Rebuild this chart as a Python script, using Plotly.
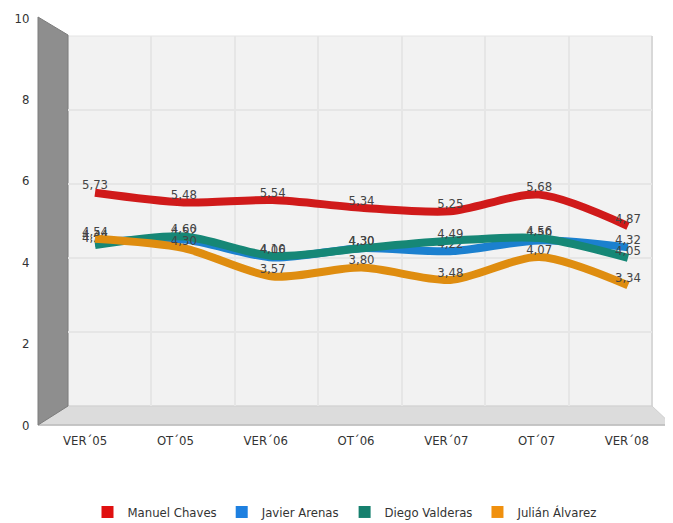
#!/usr/bin/env python3
"""Valoración de líderes andaluces (VER'05 - VER'08), pseudo-3D line chart."""

import plotly.graph_objects as go

# the page puts the plot 8 px in from the top-left corner of the window
OFFSET = 8
W, H = 673 - OFFSET, 523 - OFFSET

PERIODS = ["VER´05", "OT´05", "VER´06", "OT´06", "VER´07", "OT´07", "VER´08"]

CHAVES = [5.73, 5.48, 5.54, 5.34, 5.25, 5.68, 4.87]
ARENAS = [4.44, 4.52, 4.06, 4.30, 4.22, 4.50, 4.32]
VALDERAS = [4.38, 4.60, 4.10, 4.30, 4.49, 4.56, 4.05]
ALVAREZ = [4.54, 4.30, 3.57, 3.80, 3.48, 4.07, 3.34]

SERIES = [
    ("Manuel Chaves", CHAVES, "#d01a1a", "#e01010"),
    ("Javier Arenas", ARENAS, "#1b80cf", "#1e80e0"),
    ("Diego Valderas", VALDERAS, "#168776", "#16806e"),
    ("Julián Álvarez", ALVAREZ, "#df8d10", "#f0900e"),
]

Y_TICKS = [0, 2, 4, 6, 8, 10]

FONT = "Liberation Sans Narrow, DejaVu Sans Condensed, Arial Narrow, sans-serif"


def px(x):
    """Screen x pixel -> paper fraction."""
    return (x - OFFSET) / W


def py(y):
    """Screen y pixel -> paper fraction."""
    return 1 - (y - OFFSET) / H


def fmt(v):
    return f"{v:.2f}".replace(".", ",")


fig = go.Figure()

xs = list(range(len(PERIODS)))

# subplot 1 (x/y): back wall grid, only a dummy trace
fig.add_trace(go.Scatter(x=[None], y=[None], xaxis="x", yaxis="y", showlegend=False, hoverinfo="skip"))
# subplot 2 (x2/y2): front axis labels
fig.add_trace(go.Scatter(x=[None], y=[None], xaxis="x2", yaxis="y2", showlegend=False, hoverinfo="skip"))

# subplot 3 (x3/y3): the data lines
for name, values, color, _ in SERIES:
    fig.add_trace(
        go.Scatter(
            x=xs,
            y=values,
            xaxis="x3",
            yaxis="y3",
            mode="lines+text",
            line={"color": color, "width": 8, "shape": "spline", "smoothing": 0.8},
            text=[fmt(v) for v in values],
            textposition="top center",
            textfont={"family": FONT, "size": 13, "color": "#444"},
            cliponaxis=False,
            name=name,
            showlegend=False,
        )
    )

# legend swatches
for name, _, _, swatch in SERIES:
    fig.add_trace(
        go.Scatter(
            x=[None],
            y=[None],
            xaxis="x3",
            yaxis="y3",
            mode="markers",
            marker={"symbol": "square", "size": 16, "color": swatch, "line": {"width": 0}},
            name=name,
            showlegend=True,
        )
    )

hidden = {"showgrid": False, "zeroline": False, "showticklabels": False, "ticks": ""}

# pseudo-3D frame
shapes = [
    # back wall
    {"type": "rect", "xref": "paper", "yref": "paper",
     "x0": px(68), "x1": px(652), "y0": py(406), "y1": py(36),
     "fillcolor": "#f2f2f2", "line": {"color": "#e4e4e4", "width": 1}, "layer": "below"},
    # right edge of back wall
    {"type": "line", "xref": "paper", "yref": "paper",
     "x0": px(652), "x1": px(652), "y0": py(406), "y1": py(36),
     "line": {"color": "#d8d8d8", "width": 2}, "layer": "below"},
    # floor
    {"type": "path", "xref": "paper", "yref": "paper",
     "path": f"M {px(38)} {py(425)} L {px(68)} {py(406)} L {px(652)} {py(406)} L {px(672)} {py(425)} Z",
     "fillcolor": "#dcdcdc", "line": {"color": "#cfcfcf", "width": 1}, "layer": "below"},
    {"type": "line", "xref": "paper", "yref": "paper",
     "x0": px(38), "x1": px(672), "y0": py(425), "y1": py(425),
     "line": {"color": "#bdbdbd", "width": 1.5}, "layer": "below"},
    # left wall
    {"type": "path", "xref": "paper", "yref": "paper",
     "path": f"M {px(38)} {py(17)} L {px(68)} {py(35)} L {px(68)} {py(406)} L {px(38)} {py(425)} Z",
     "fillcolor": "#8e8e8e", "line": {"color": "#7c7c7c", "width": 1}, "layer": "below"},
]

fig.update_layout(
    width=W,
    height=H,
    margin={"l": 0, "r": 0, "t": 0, "b": 0, "autoexpand": False},
    paper_bgcolor="white",
    plot_bgcolor="rgba(0,0,0,0)",
    font={"family": FONT, "size": 12, "color": "#333"},
    shapes=shapes,
    # back wall grid
    xaxis={
        "domain": [px(68), px(652)], "range": [-0.5, 6.5], "anchor": "y",
        "tickvals": [0.5, 1.5, 2.5, 3.5, 4.5, 5.5], "showgrid": True,
        "gridcolor": "#e6e6e6", "gridwidth": 2, "zeroline": False,
        "showticklabels": False, "ticks": "",
    },
    yaxis={
        "domain": [py(406), py(36)], "range": [0, 10], "anchor": "x",
        "tickvals": Y_TICKS, "showgrid": True, "gridcolor": "#e6e6e6", "gridwidth": 2,
        "zeroline": False, "showticklabels": False, "ticks": "",
    },
    # front axes with labels
    xaxis2={
        "domain": [px(40), px(672)], "range": [-0.5, 6.5], "anchor": "y2",
        "tickvals": xs, "ticktext": PERIODS, "showgrid": False, "zeroline": False,
        "ticks": "outside", "ticklen": 3, "tickcolor": "rgba(0,0,0,0)",
        "tickfont": {"family": FONT, "size": 13, "color": "#333"},
    },
    yaxis2={
        "domain": [py(425), py(18)], "range": [0, 10], "anchor": "free", "position": px(38),
        "tickvals": Y_TICKS, "showgrid": False, "zeroline": False,
        "ticks": "outside", "ticklen": 6, "tickcolor": "rgba(0,0,0,0)",
        "tickfont": {"family": FONT, "size": 13, "color": "#333"},
    },
    # data plane
    xaxis3={"domain": [px(50.6), px(672.4)], "range": [-0.5, 6.5], "anchor": "y3", **hidden},
    yaxis3={"domain": [py(415), py(27)], "range": [0, 10], "anchor": "x3", **hidden},
    legend={
        "orientation": "h",
        "x": px(345),
        "xanchor": "center",
        "y": py(512),
        "yanchor": "middle",
        "font": {"family": FONT, "size": 13, "color": "#333"},
        "itemsizing": "constant",
        "bgcolor": "rgba(0,0,0,0)",
    },
)

fig.write_html("out.html")
